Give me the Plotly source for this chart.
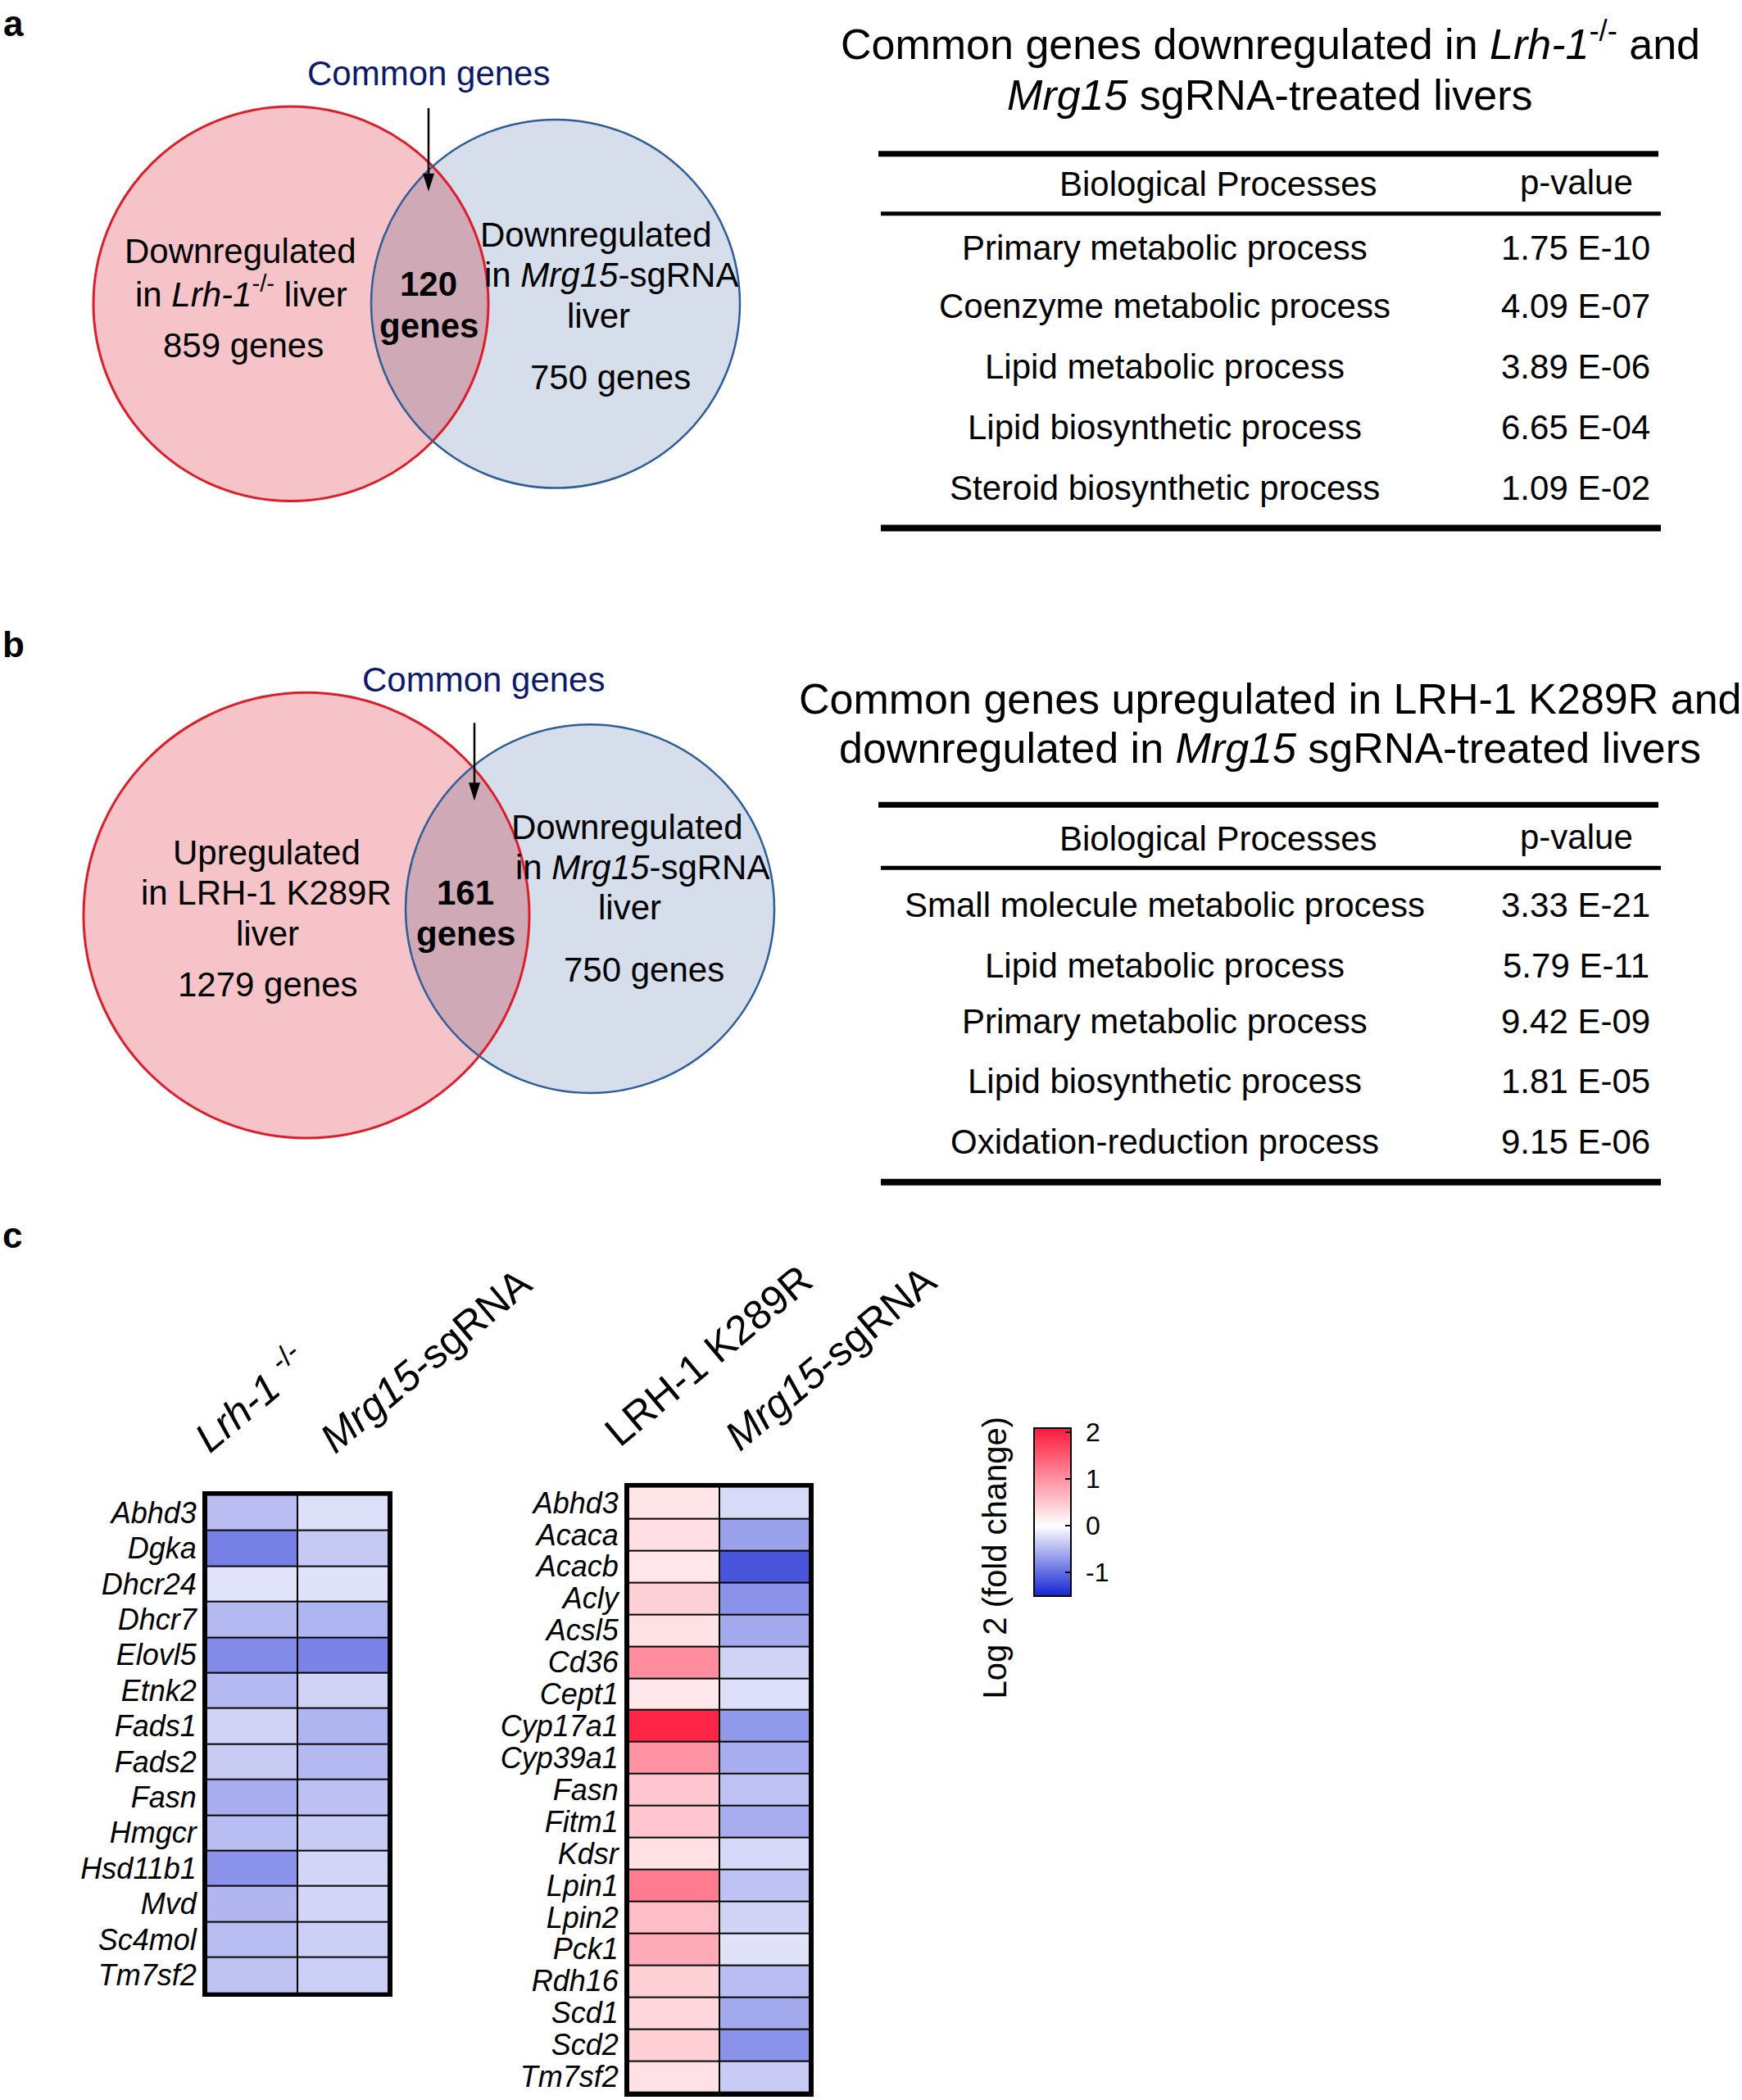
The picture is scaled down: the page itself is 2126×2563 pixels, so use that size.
import numpy as np
import plotly.graph_objects as go

W, H = 2126, 2563
FONT = "Liberation Sans, Arial, Helvetica, sans-serif"

# ---------------- data ----------------
venn_a_counts = [859, 120, 750]          # left only, common, right only
venn_b_counts = [1279, 161, 750]

table_a_processes = ["Primary metabolic process", "Coenzyme metabolic process",
                     "Lipid metabolic process", "Lipid biosynthetic process",
                     "Steroid biosynthetic process"]
table_a_pvalues = ["1.75 E-10", "4.09 E-07", "3.89 E-06", "6.65 E-04", "1.09 E-02"]

table_b_processes = ["Small molecule metabolic process", "Lipid metabolic process",
                     "Primary metabolic process", "Lipid biosynthetic process",
                     "Oxidation-reduction process"]
table_b_pvalues = ["3.33 E-21", "5.79 E-11", "9.42 E-09", "1.81 E-05", "9.15 E-06"]

genes_left = ["Abhd3", "Dgka", "Dhcr24", "Dhcr7", "Elovl5", "Etnk2", "Fads1",
              "Fads2", "Fasn", "Hmgcr", "Hsd11b1", "Mvd", "Sc4mol", "Tm7sf2"]
cols_left = ["<i>Lrh-1</i> <sup>-/-</sup>", "<i>Mrg15</i>-sgRNA"]
lrh1_ko = [-0.45, -0.87, -0.19, -0.48, -0.80, -0.48, -0.30,
           -0.35, -0.56, -0.46, -0.75, -0.50, -0.46, -0.41]
mrg15_left = [-0.22, -0.37, -0.20, -0.51, -0.84, -0.30, -0.51,
              -0.48, -0.42, -0.35, -0.29, -0.28, -0.32, -0.33]

genes_right = ["Abhd3", "Acaca", "Acacb", "Acly", "Acsl5", "Cd36", "Cept1",
               "Cyp17a1", "Cyp39a1", "Fasn", "Fitm1", "Kdsr", "Lpin1", "Lpin2",
               "Pck1", "Rdh16", "Scd1", "Scd2", "Tm7sf2"]
cols_right = ["LRH-1 K289R", "<i>Mrg15</i>-sgRNA"]
lrh1_k289r = [0.25, 0.29, 0.23, 0.44, 0.27, 1.05, 0.22, 2.00, 1.00, 0.52,
              0.52, 0.28, 1.20, 0.60, 0.78, 0.44, 0.37, 0.44, 0.28]
mrg15_right = [-0.25, -0.64, -1.16, -0.75, -0.59, -0.30, -0.22, -0.70, -0.56, -0.41,
               -0.56, -0.26, -0.41, -0.30, -0.20, -0.45, -0.59, -0.75, -0.35]

cbar_ticks = [-1, 0, 1, 2]
cbar_ticktext = ["-1", "0", "1", "2"]
cmin, cmax = -1.5, 2.1

# ---------------- helpers ----------------
def X(px):
    return px / W

def Y(py):
    return 1 - py / H

fig = go.Figure()

def text(x, y, s, size, color="black", angle=0, xanchor="center"):
    fig.add_annotation(x=X(x), y=Y(y), xref="paper", yref="paper", text=s,
                       showarrow=False, textangle=angle,
                       font=dict(family=FONT, size=size, color=color),
                       xanchor=xanchor, yanchor="middle")

def arrow(x, y_tail, y_head, head_len=22, head_half=7):
    fig.add_shape(type="line", xref="paper", yref="paper",
                  x0=X(x), x1=X(x), y0=Y(y_tail), y1=Y(y_head - head_len + 2),
                  line=dict(color="black", width=2.5))
    path = (f"M {X(x - head_half):.5f},{Y(y_head - head_len):.5f} "
            f"L {X(x + head_half):.5f},{Y(y_head - head_len):.5f} "
            f"L {X(x):.5f},{Y(y_head):.5f} Z")
    fig.add_shape(type="path", xref="paper", yref="paper", path=path,
                  fillcolor="black", line=dict(width=0))

def circle(cx, cy, r, fill, line_color, lw):
    fig.add_shape(type="circle", xref="paper", yref="paper",
                  x0=X(cx - r), x1=X(cx + r), y0=Y(cy + r), y1=Y(cy - r),
                  fillcolor=fill, line=dict(color=line_color, width=lw), layer="below")

def lens(c1, r1, c2, r2, fill, n=80):
    (x1, y1), (x2, y2) = c1, c2
    d = np.hypot(x2 - x1, y2 - y1)
    a = (r1 ** 2 - r2 ** 2 + d ** 2) / (2 * d)
    h = np.sqrt(r1 ** 2 - a ** 2)
    phi12 = np.arctan2(y2 - y1, x2 - x1)
    al1 = np.arctan2(h, a)
    t1 = np.linspace(phi12 - al1, phi12 + al1, n)
    phi21 = phi12 + np.pi
    al2 = np.arctan2(h, d - a)
    t2 = np.linspace(phi21 - al2, phi21 + al2, n)
    pts = np.vstack([np.c_[x1 + r1 * np.cos(t1), y1 + r1 * np.sin(t1)],
                     np.c_[x2 + r2 * np.cos(t2), y2 + r2 * np.sin(t2)]])
    path = "M " + " L ".join(f"{X(px):.5f},{Y(py):.5f}" for px, py in pts) + " Z"
    fig.add_shape(type="path", xref="paper", yref="paper", path=path,
                  fillcolor=fill, line=dict(width=0), layer="below")

def hline(x0, x1, y, lw):
    fig.add_shape(type="line", xref="paper", yref="paper", x0=X(x0), x1=X(x1),
                  y0=Y(y), y1=Y(y), line=dict(color="black", width=lw))

PINK, BLUE, MAUVE = "#f6c4c8", "#d5deea", "#d0a9b6"
RED_LINE, BLUE_LINE = "#dc1e2b", "#2e5d98"

def venn(c1, r1, c2, r2):
    circle(*c1, r1, PINK, "rgba(0,0,0,0)", 0)
    circle(*c2, r2, BLUE, "rgba(0,0,0,0)", 0)
    lens(c1, r1, c2, r2, MAUVE)
    circle(*c1, r1, "rgba(0,0,0,0)", RED_LINE, 3)
    circle(*c2, r2, "rgba(0,0,0,0)", BLUE_LINE, 2.5)

VS = 42  # venn text size

# ---------------- panel letters ----------------
text(16, 28, "<b>a</b>", 44)
text(16, 786, "<b>b</b>", 44)
text(15, 1508, "<b>c</b>", 44)

# ---------------- Venn a ----------------
venn((355, 370), 241, (678, 370), 225)
text(523, 89, "Common genes", VS, color="#0d1a6b")
arrow(523, 131, 233)
text(293, 306, "Downregulated", VS)
text(294, 355, "in <i>Lrh-1</i><sup>-/-</sup> liver", VS)
text(297, 421, f"{venn_a_counts[0]} genes", VS)
text(523, 346, f"<b>{venn_a_counts[1]}</b>", VS)
text(523, 397, "<b>genes</b>", VS)
text(727, 286, "Downregulated", VS)
text(746, 335, "in <i>Mrg15</i>-sgRNA", VS)
text(730, 385, "liver", VS)
text(745, 460, f"{venn_a_counts[2]} genes", VS)

# ---------------- Venn b ----------------
venn((374, 1117), 272, (720, 1109), 225)
text(590, 829, "Common genes", VS, color="#0d1a6b")
arrow(579, 882, 977)
text(325, 1040, "Upregulated", VS)
text(325, 1089, "in LRH-1 K289R", VS)
text(326, 1139, "liver", VS)
text(327, 1201, f"{venn_b_counts[0]} genes", VS)
text(568, 1089, f"<b>{venn_b_counts[1]}</b>", VS)
text(568, 1139, "<b>genes</b>", VS)
text(765, 1009, "Downregulated", VS)
text(784, 1058, "in <i>Mrg15</i>-sgRNA", VS)
text(768, 1107, "liver", VS)
text(786, 1183, f"{venn_b_counts[2]} genes", VS)

# ---------------- tables ----------------
def table(title_lines, title_ys, y_top, y_head, y_mid, row_ys, y_bot, procs, pvals):
    for s, yy in zip(title_lines, title_ys):
        text(1550, yy, s, 52)
    hline(1072, 2024, y_top, 7)
    text(1487, y_head, "Biological Processes", 42)
    text(1924, y_head - 2, "p-value", 42)
    hline(1075, 2027, y_mid, 5)
    for p, v, yy in zip(procs, pvals, row_ys):
        text(1421, yy, p, 42)
        text(1923, yy, v, 42)
    hline(1075, 2027, y_bot, 8)

table(["Common genes downregulated in <i>Lrh-1</i><sup>-/-</sup> and",
       "<i>Mrg15</i> sgRNA-treated livers"], [49, 115],
      187, 224, 260, [302, 373, 447, 521, 595], 644,
      table_a_processes, table_a_pvalues)

table(["Common genes upregulated in LRH-1 K289R and",
       "downregulated in <i>Mrg15</i> sgRNA-treated livers"], [853, 913],
      982, 1023, 1059, [1104, 1178, 1246, 1320, 1394], 1443,
      table_b_processes, table_b_pvalues)

# ---------------- heatmaps ----------------
zL = [[a, b] for a, b in zip(lrh1_ko, mrg15_left)]
zR = [[a, b] for a, b in zip(lrh1_k289r, mrg15_right)]

zero = (0 - cmin) / (cmax - cmin)
cscale = [[0, "#1424d2"], [zero, "#ffffff"], [1, "#ff1a3c"]]

CB_LEFT, CB_TOP, CB_W, CB_LEN = 1262, 1743, 45, 205
cbar = dict(thickness=CB_W, thicknessmode="pixels", len=CB_LEN, lenmode="pixels",
            x=X(CB_LEFT), xanchor="left", y=Y(CB_TOP), yanchor="top",
            xpad=0, ypad=0, outlinewidth=2, outlinecolor="black",
            tickmode="array", tickvals=cbar_ticks, showticklabels=False,
            ticks="inside", ticklen=8, tickwidth=2, tickcolor="black", borderwidth=0)

fig.add_trace(go.Heatmap(z=zL, x=[0, 1], y=genes_left, zmin=cmin, zmax=cmax,
                         colorscale=cscale, showscale=False,
                         xgap=2, ygap=2, xaxis="x", yaxis="y", hoverinfo="skip"))
fig.add_trace(go.Heatmap(z=zR, x=[0, 1], y=genes_right, zmin=cmin, zmax=cmax,
                         colorscale=cscale, showscale=True, colorbar=cbar,
                         xgap=2, ygap=2, xaxis="x2", yaxis="y2", hoverinfo="skip"))

# colour-bar tick labels and left-edge ticks, placed through the bar's linear scale
def cb_y(v):
    return CB_TOP + (cmax - v) / (cmax - cmin) * CB_LEN

for v, lab in zip(cbar_ticks, cbar_ticktext):
    text(CB_LEFT + CB_W + 16, cb_y(v), lab, 32, xanchor="left")
    fig.add_shape(type="line", xref="paper", yref="paper",
                  x0=X(CB_LEFT), x1=X(CB_LEFT + 8), y0=Y(cb_y(v)), y1=Y(cb_y(v)),
                  line=dict(color="black", width=2))

box = dict(showline=True, mirror=True, linewidth=5, linecolor="black",
           showgrid=False, zeroline=False, ticks="", fixedrange=True)

fig.update_layout(
    xaxis=dict(domain=[X(252), X(474)], anchor="y", showticklabels=False, **box),
    yaxis=dict(domain=[Y(2433), Y(1825)], anchor="x", autorange="reversed",
               tickvals=genes_left, ticktext=[f"<i>{g}</i>" for g in genes_left],
               tickfont=dict(family=FONT, size=36, color="black"), **box),
    xaxis2=dict(domain=[X(767), X(988)], anchor="y2", showticklabels=False, **box),
    yaxis2=dict(domain=[Y(2555), Y(1815)], anchor="x2", autorange="reversed",
                tickvals=genes_right, ticktext=[f"<i>{g}</i>" for g in genes_right],
                tickfont=dict(family=FONT, size=36, color="black"), **box),
)

# column headers (rotated)
for s, (cx, cy) in zip(cols_left, [(305, 1706), (519, 1661)]):
    text(cx, cy, s, 50, angle=-40)
for s, (cx, cy) in zip(cols_right, [(864, 1655), (1013, 1658)]):
    text(cx, cy, s, 50, angle=-40)

text(1214, 1902, "Log 2 (fold change)", 40, angle=-90)

fig.update_layout(width=W, height=H, autosize=False,
                  margin=dict(l=0, r=0, t=0, b=0, pad=0),
                  paper_bgcolor="white", plot_bgcolor="black",
                  font=dict(family=FONT, color="black"), showlegend=False)

fig.write_html("out.html", config={"displayModeBar": False},
               post_script="document.body.style.margin='0';")
